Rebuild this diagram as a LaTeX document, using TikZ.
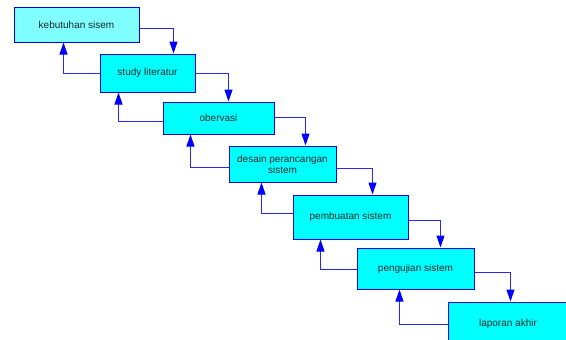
\documentclass[tikz,border=0pt]{standalone}
\usepackage{fontspec}
\setmainfont{Liberation Sans}
\usetikzlibrary{arrows.meta}
\definecolor{lineblue}{RGB}{40,40,255}
\definecolor{boxfill}{RGB}{0,255,255}
\definecolor{boxfilllight}{RGB}{128,255,255}
\definecolor{textc}{RGB}{20,40,40}
\tikzset{
  stepbox/.style={draw=blue, line width=1pt, fill=boxfill, inner sep=0pt,
    font=\fontsize{10}{11}\selectfont, text=textc, align=center},
  arr/.style={draw=lineblue, line width=1pt, -{Triangle[length=12pt,width=8pt,color=blue]}}
}
\begin{document}
\begin{tikzpicture}[x=1pt,y=-1pt]
\useasboundingbox (0,0) rectangle (566,340);
\begin{scope}
\clip (0,0) rectangle (566,340);
\node[stepbox, fill=boxfilllight, minimum width=125pt, minimum height=35pt] (b1) at (76.5,24.5) {kebutuhan sisem};
\node[stepbox, minimum width=95pt, minimum height=38pt] (b2) at (147.5,73) {study literatur};
\node[stepbox, minimum width=111pt, minimum height=32pt] (b3) at (218.5,118) {obervasi};
\node[stepbox, minimum width=107pt, minimum height=36pt] (b4) at (282.5,164) {desain perancangan\\sistem};
\node[stepbox, minimum width=115pt, minimum height=44pt] (b5) at (350.5,217) {pembuatan sistem};
\node[stepbox, minimum width=117pt, minimum height=41pt] (b6) at (415.5,268.5) {pengujian sistem};
\node[stepbox, minimum width=120pt, minimum height=60pt, text depth=0pt] (b7) at (508,332) {\raisebox{18pt}{laporan akhir}};
\end{scope}
% forward arrows
\draw[arr] ([yshift=-3.5pt]b1.east) -| ([xshift=74pt]b2.north west);
\draw[arr] (b2.east) -| ([xshift=66pt]b3.north west);
\draw[arr] ([yshift=1pt]b3.east) -| ([xshift=77pt]b4.north west);
\draw[arr] ([yshift=-4pt]b4.east) -| ([xshift=80pt]b5.north west);
\draw[arr] ([yshift=-3pt]b5.east) -| ([xshift=84pt]b6.north west);
\draw[arr] ([yshift=-3.5pt]b6.east) -| ([xshift=63pt]b7.north west);
% backward arrows
\draw[arr] (b2.west) -| ([xshift=50pt]b1.south west);
\draw[arr] ([yshift=-3pt]b3.west) -| ([xshift=19pt]b2.south west);
\draw[arr] ([yshift=-3pt]b4.west) -| ([xshift=28pt]b3.south west);
\draw[arr] ([yshift=4pt]b5.west) -| ([xshift=33pt]b4.south west);
\draw[arr] ([yshift=-0.5pt]b6.west) -| ([xshift=28pt]b5.south west);
\draw[arr] ([yshift=8pt]b7.west) -| ([xshift=43pt]b6.south west);
\end{tikzpicture}
\end{document}
